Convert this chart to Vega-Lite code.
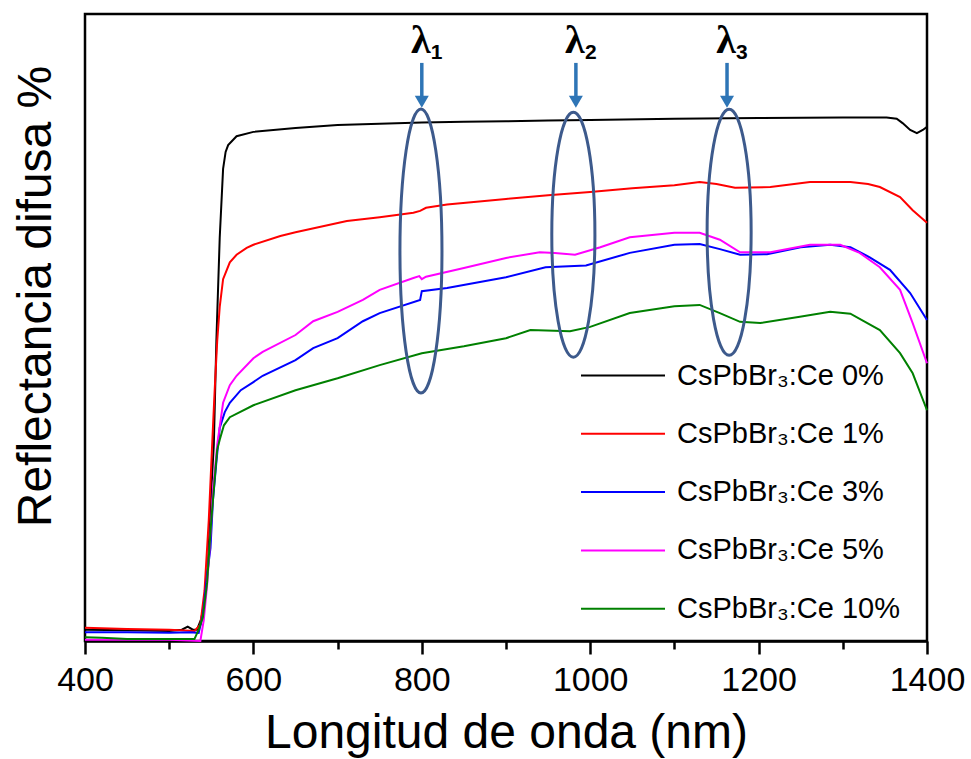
{
  "$schema": "https://vega.github.io/schema/vega-lite/v6.json",
  "width": 842,
  "height": 627,
  "autosize": {"type": "none"},
  "padding": {"left": 85, "top": 14, "right": 44, "bottom": 118},
  "background": "white",
  "config": {
    "font": "Liberation Sans",
    "view": {"stroke": "black", "strokeWidth": 2.5}
  },
  "datasets": {
    "espectros": [
      {"muestra": "CsPbBr₃:Ce 0%", "nm": 400, "r": 1.8},
      {"muestra": "CsPbBr₃:Ce 0%", "nm": 450, "r": 1.7},
      {"muestra": "CsPbBr₃:Ce 0%", "nm": 500, "r": 1.6},
      {"muestra": "CsPbBr₃:Ce 0%", "nm": 515, "r": 1.8},
      {"muestra": "CsPbBr₃:Ce 0%", "nm": 522, "r": 2.3},
      {"muestra": "CsPbBr₃:Ce 0%", "nm": 528, "r": 1.8},
      {"muestra": "CsPbBr₃:Ce 0%", "nm": 533, "r": 1.8},
      {"muestra": "CsPbBr₃:Ce 0%", "nm": 538, "r": 3.5},
      {"muestra": "CsPbBr₃:Ce 0%", "nm": 542, "r": 6.5},
      {"muestra": "CsPbBr₃:Ce 0%", "nm": 546, "r": 12.0},
      {"muestra": "CsPbBr₃:Ce 0%", "nm": 550, "r": 24.1},
      {"muestra": "CsPbBr₃:Ce 0%", "nm": 553, "r": 31.3},
      {"muestra": "CsPbBr₃:Ce 0%", "nm": 556, "r": 47.8},
      {"muestra": "CsPbBr₃:Ce 0%", "nm": 560, "r": 64.3},
      {"muestra": "CsPbBr₃:Ce 0%", "nm": 564, "r": 75.3},
      {"muestra": "CsPbBr₃:Ce 0%", "nm": 567, "r": 78.0},
      {"muestra": "CsPbBr₃:Ce 0%", "nm": 570, "r": 79.1},
      {"muestra": "CsPbBr₃:Ce 0%", "nm": 580, "r": 80.5},
      {"muestra": "CsPbBr₃:Ce 0%", "nm": 600, "r": 81.2},
      {"muestra": "CsPbBr₃:Ce 0%", "nm": 650, "r": 81.8},
      {"muestra": "CsPbBr₃:Ce 0%", "nm": 700, "r": 82.3},
      {"muestra": "CsPbBr₃:Ce 0%", "nm": 750, "r": 82.5},
      {"muestra": "CsPbBr₃:Ce 0%", "nm": 800, "r": 82.7},
      {"muestra": "CsPbBr₃:Ce 0%", "nm": 850, "r": 82.8},
      {"muestra": "CsPbBr₃:Ce 0%", "nm": 900, "r": 82.9},
      {"muestra": "CsPbBr₃:Ce 0%", "nm": 950, "r": 83.0},
      {"muestra": "CsPbBr₃:Ce 0%", "nm": 1000, "r": 83.1},
      {"muestra": "CsPbBr₃:Ce 0%", "nm": 1100, "r": 83.3},
      {"muestra": "CsPbBr₃:Ce 0%", "nm": 1200, "r": 83.4},
      {"muestra": "CsPbBr₃:Ce 0%", "nm": 1300, "r": 83.5},
      {"muestra": "CsPbBr₃:Ce 0%", "nm": 1352, "r": 83.5},
      {"muestra": "CsPbBr₃:Ce 0%", "nm": 1364, "r": 83.3},
      {"muestra": "CsPbBr₃:Ce 0%", "nm": 1371, "r": 82.6},
      {"muestra": "CsPbBr₃:Ce 0%", "nm": 1380, "r": 81.5},
      {"muestra": "CsPbBr₃:Ce 0%", "nm": 1388, "r": 81.0},
      {"muestra": "CsPbBr₃:Ce 0%", "nm": 1395, "r": 81.5},
      {"muestra": "CsPbBr₃:Ce 0%", "nm": 1400, "r": 82.0},

      {"muestra": "CsPbBr₃:Ce 1%", "nm": 400, "r": 2.1},
      {"muestra": "CsPbBr₃:Ce 1%", "nm": 450, "r": 1.9},
      {"muestra": "CsPbBr₃:Ce 1%", "nm": 500, "r": 1.8},
      {"muestra": "CsPbBr₃:Ce 1%", "nm": 530, "r": 1.6},
      {"muestra": "CsPbBr₃:Ce 1%", "nm": 537, "r": 2.6},
      {"muestra": "CsPbBr₃:Ce 1%", "nm": 542, "r": 8.1},
      {"muestra": "CsPbBr₃:Ce 1%", "nm": 547, "r": 19.3},
      {"muestra": "CsPbBr₃:Ce 1%", "nm": 551, "r": 31.3},
      {"muestra": "CsPbBr₃:Ce 1%", "nm": 554, "r": 40.0},
      {"muestra": "CsPbBr₃:Ce 1%", "nm": 557, "r": 47.8},
      {"muestra": "CsPbBr₃:Ce 1%", "nm": 560, "r": 53.3},
      {"muestra": "CsPbBr₃:Ce 1%", "nm": 564, "r": 57.7},
      {"muestra": "CsPbBr₃:Ce 1%", "nm": 572, "r": 60.4},
      {"muestra": "CsPbBr₃:Ce 1%", "nm": 580, "r": 61.6},
      {"muestra": "CsPbBr₃:Ce 1%", "nm": 592, "r": 62.7},
      {"muestra": "CsPbBr₃:Ce 1%", "nm": 600, "r": 63.2},
      {"muestra": "CsPbBr₃:Ce 1%", "nm": 632, "r": 64.6},
      {"muestra": "CsPbBr₃:Ce 1%", "nm": 650, "r": 65.2},
      {"muestra": "CsPbBr₃:Ce 1%", "nm": 711, "r": 67.0},
      {"muestra": "CsPbBr₃:Ce 1%", "nm": 750, "r": 67.6},
      {"muestra": "CsPbBr₃:Ce 1%", "nm": 790, "r": 68.3},
      {"muestra": "CsPbBr₃:Ce 1%", "nm": 798, "r": 68.6},
      {"muestra": "CsPbBr₃:Ce 1%", "nm": 805, "r": 69.1},
      {"muestra": "CsPbBr₃:Ce 1%", "nm": 830, "r": 69.6},
      {"muestra": "CsPbBr₃:Ce 1%", "nm": 900, "r": 70.5},
      {"muestra": "CsPbBr₃:Ce 1%", "nm": 950, "r": 71.1},
      {"muestra": "CsPbBr₃:Ce 1%", "nm": 1000, "r": 71.6},
      {"muestra": "CsPbBr₃:Ce 1%", "nm": 1050, "r": 72.2},
      {"muestra": "CsPbBr₃:Ce 1%", "nm": 1100, "r": 72.7},
      {"muestra": "CsPbBr₃:Ce 1%", "nm": 1130, "r": 73.2},
      {"muestra": "CsPbBr₃:Ce 1%", "nm": 1150, "r": 72.9},
      {"muestra": "CsPbBr₃:Ce 1%", "nm": 1172, "r": 72.3},
      {"muestra": "CsPbBr₃:Ce 1%", "nm": 1214, "r": 72.4},
      {"muestra": "CsPbBr₃:Ce 1%", "nm": 1261, "r": 73.2},
      {"muestra": "CsPbBr₃:Ce 1%", "nm": 1309, "r": 73.2},
      {"muestra": "CsPbBr₃:Ce 1%", "nm": 1330, "r": 72.9},
      {"muestra": "CsPbBr₃:Ce 1%", "nm": 1344, "r": 72.4},
      {"muestra": "CsPbBr₃:Ce 1%", "nm": 1368, "r": 70.8},
      {"muestra": "CsPbBr₃:Ce 1%", "nm": 1383, "r": 68.7},
      {"muestra": "CsPbBr₃:Ce 1%", "nm": 1400, "r": 66.7},

      {"muestra": "CsPbBr₃:Ce 3%", "nm": 400, "r": 1.4},
      {"muestra": "CsPbBr₃:Ce 3%", "nm": 450, "r": 1.4},
      {"muestra": "CsPbBr₃:Ce 3%", "nm": 500, "r": 1.3},
      {"muestra": "CsPbBr₃:Ce 3%", "nm": 525, "r": 1.4},
      {"muestra": "CsPbBr₃:Ce 3%", "nm": 535, "r": 1.3},
      {"muestra": "CsPbBr₃:Ce 3%", "nm": 540, "r": 4.1},
      {"muestra": "CsPbBr₃:Ce 3%", "nm": 545, "r": 10.5},
      {"muestra": "CsPbBr₃:Ce 3%", "nm": 549, "r": 14.8},
      {"muestra": "CsPbBr₃:Ce 3%", "nm": 552, "r": 22.5},
      {"muestra": "CsPbBr₃:Ce 3%", "nm": 556, "r": 28.5},
      {"muestra": "CsPbBr₃:Ce 3%", "nm": 560, "r": 34.0},
      {"muestra": "CsPbBr₃:Ce 3%", "nm": 566, "r": 36.5},
      {"muestra": "CsPbBr₃:Ce 3%", "nm": 572, "r": 38.0},
      {"muestra": "CsPbBr₃:Ce 3%", "nm": 585, "r": 40.0},
      {"muestra": "CsPbBr₃:Ce 3%", "nm": 600, "r": 41.3},
      {"muestra": "CsPbBr₃:Ce 3%", "nm": 611, "r": 42.3},
      {"muestra": "CsPbBr₃:Ce 3%", "nm": 650, "r": 44.8},
      {"muestra": "CsPbBr₃:Ce 3%", "nm": 671, "r": 46.7},
      {"muestra": "CsPbBr₃:Ce 3%", "nm": 700, "r": 48.3},
      {"muestra": "CsPbBr₃:Ce 3%", "nm": 730, "r": 51.0},
      {"muestra": "CsPbBr₃:Ce 3%", "nm": 750, "r": 52.3},
      {"muestra": "CsPbBr₃:Ce 3%", "nm": 798, "r": 54.4},
      {"muestra": "CsPbBr₃:Ce 3%", "nm": 800, "r": 55.8},
      {"muestra": "CsPbBr₃:Ce 3%", "nm": 830, "r": 56.3},
      {"muestra": "CsPbBr₃:Ce 3%", "nm": 900, "r": 58.0},
      {"muestra": "CsPbBr₃:Ce 3%", "nm": 947, "r": 59.6},
      {"muestra": "CsPbBr₃:Ce 3%", "nm": 995, "r": 59.9},
      {"muestra": "CsPbBr₃:Ce 3%", "nm": 1047, "r": 61.9},
      {"muestra": "CsPbBr₃:Ce 3%", "nm": 1100, "r": 63.2},
      {"muestra": "CsPbBr₃:Ce 3%", "nm": 1130, "r": 63.3},
      {"muestra": "CsPbBr₃:Ce 3%", "nm": 1154, "r": 62.5},
      {"muestra": "CsPbBr₃:Ce 3%", "nm": 1178, "r": 61.6},
      {"muestra": "CsPbBr₃:Ce 3%", "nm": 1210, "r": 61.7},
      {"muestra": "CsPbBr₃:Ce 3%", "nm": 1250, "r": 62.8},
      {"muestra": "CsPbBr₃:Ce 3%", "nm": 1285, "r": 63.2},
      {"muestra": "CsPbBr₃:Ce 3%", "nm": 1309, "r": 62.8},
      {"muestra": "CsPbBr₃:Ce 3%", "nm": 1332, "r": 61.2},
      {"muestra": "CsPbBr₃:Ce 3%", "nm": 1356, "r": 59.2},
      {"muestra": "CsPbBr₃:Ce 3%", "nm": 1380, "r": 55.5},
      {"muestra": "CsPbBr₃:Ce 3%", "nm": 1400, "r": 51.2},

      {"muestra": "CsPbBr₃:Ce 5%", "nm": 400, "r": 0.2},
      {"muestra": "CsPbBr₃:Ce 5%", "nm": 500, "r": 0.2},
      {"muestra": "CsPbBr₃:Ce 5%", "nm": 537, "r": 0.0},
      {"muestra": "CsPbBr₃:Ce 5%", "nm": 541, "r": 3.3},
      {"muestra": "CsPbBr₃:Ce 5%", "nm": 545, "r": 8.9},
      {"muestra": "CsPbBr₃:Ce 5%", "nm": 548, "r": 14.8},
      {"muestra": "CsPbBr₃:Ce 5%", "nm": 552, "r": 24.1},
      {"muestra": "CsPbBr₃:Ce 5%", "nm": 557, "r": 31.3},
      {"muestra": "CsPbBr₃:Ce 5%", "nm": 564, "r": 38.0},
      {"muestra": "CsPbBr₃:Ce 5%", "nm": 572, "r": 40.8},
      {"muestra": "CsPbBr₃:Ce 5%", "nm": 580, "r": 42.3},
      {"muestra": "CsPbBr₃:Ce 5%", "nm": 600, "r": 45.1},
      {"muestra": "CsPbBr₃:Ce 5%", "nm": 611, "r": 46.1},
      {"muestra": "CsPbBr₃:Ce 5%", "nm": 650, "r": 48.8},
      {"muestra": "CsPbBr₃:Ce 5%", "nm": 671, "r": 51.0},
      {"muestra": "CsPbBr₃:Ce 5%", "nm": 700, "r": 52.5},
      {"muestra": "CsPbBr₃:Ce 5%", "nm": 730, "r": 54.4},
      {"muestra": "CsPbBr₃:Ce 5%", "nm": 750, "r": 56.0},
      {"muestra": "CsPbBr₃:Ce 5%", "nm": 790, "r": 57.9},
      {"muestra": "CsPbBr₃:Ce 5%", "nm": 797, "r": 58.2},
      {"muestra": "CsPbBr₃:Ce 5%", "nm": 800, "r": 57.7},
      {"muestra": "CsPbBr₃:Ce 5%", "nm": 805, "r": 58.1},
      {"muestra": "CsPbBr₃:Ce 5%", "nm": 850, "r": 59.5},
      {"muestra": "CsPbBr₃:Ce 5%", "nm": 900, "r": 61.1},
      {"muestra": "CsPbBr₃:Ce 5%", "nm": 940, "r": 62.0},
      {"muestra": "CsPbBr₃:Ce 5%", "nm": 958, "r": 61.9},
      {"muestra": "CsPbBr₃:Ce 5%", "nm": 982, "r": 61.6},
      {"muestra": "CsPbBr₃:Ce 5%", "nm": 1012, "r": 62.8},
      {"muestra": "CsPbBr₃:Ce 5%", "nm": 1047, "r": 64.4},
      {"muestra": "CsPbBr₃:Ce 5%", "nm": 1100, "r": 65.1},
      {"muestra": "CsPbBr₃:Ce 5%", "nm": 1130, "r": 65.1},
      {"muestra": "CsPbBr₃:Ce 5%", "nm": 1154, "r": 64.0},
      {"muestra": "CsPbBr₃:Ce 5%", "nm": 1178, "r": 62.0},
      {"muestra": "CsPbBr₃:Ce 5%", "nm": 1214, "r": 62.0},
      {"muestra": "CsPbBr₃:Ce 5%", "nm": 1261, "r": 63.2},
      {"muestra": "CsPbBr₃:Ce 5%", "nm": 1297, "r": 63.2},
      {"muestra": "CsPbBr₃:Ce 5%", "nm": 1320, "r": 61.9},
      {"muestra": "CsPbBr₃:Ce 5%", "nm": 1344, "r": 59.6},
      {"muestra": "CsPbBr₃:Ce 5%", "nm": 1368, "r": 56.0},
      {"muestra": "CsPbBr₃:Ce 5%", "nm": 1383, "r": 50.7},
      {"muestra": "CsPbBr₃:Ce 5%", "nm": 1400, "r": 44.3},

      {"muestra": "CsPbBr₃:Ce 10%", "nm": 400, "r": 0.6},
      {"muestra": "CsPbBr₃:Ce 10%", "nm": 420, "r": 0.5},
      {"muestra": "CsPbBr₃:Ce 10%", "nm": 450, "r": 0.3},
      {"muestra": "CsPbBr₃:Ce 10%", "nm": 530, "r": 0.3},
      {"muestra": "CsPbBr₃:Ce 10%", "nm": 535, "r": 1.8},
      {"muestra": "CsPbBr₃:Ce 10%", "nm": 540, "r": 3.8},
      {"muestra": "CsPbBr₃:Ce 10%", "nm": 545, "r": 9.3},
      {"muestra": "CsPbBr₃:Ce 10%", "nm": 550, "r": 19.3},
      {"muestra": "CsPbBr₃:Ce 10%", "nm": 554, "r": 25.8},
      {"muestra": "CsPbBr₃:Ce 10%", "nm": 557, "r": 30.5},
      {"muestra": "CsPbBr₃:Ce 10%", "nm": 560, "r": 32.1},
      {"muestra": "CsPbBr₃:Ce 10%", "nm": 565, "r": 34.4},
      {"muestra": "CsPbBr₃:Ce 10%", "nm": 572, "r": 35.7},
      {"muestra": "CsPbBr₃:Ce 10%", "nm": 600, "r": 37.6},
      {"muestra": "CsPbBr₃:Ce 10%", "nm": 650, "r": 40.0},
      {"muestra": "CsPbBr₃:Ce 10%", "nm": 700, "r": 41.9},
      {"muestra": "CsPbBr₃:Ce 10%", "nm": 750, "r": 44.0},
      {"muestra": "CsPbBr₃:Ce 10%", "nm": 800, "r": 45.9},
      {"muestra": "CsPbBr₃:Ce 10%", "nm": 850, "r": 47.0},
      {"muestra": "CsPbBr₃:Ce 10%", "nm": 900, "r": 48.3},
      {"muestra": "CsPbBr₃:Ce 10%", "nm": 929, "r": 49.6},
      {"muestra": "CsPbBr₃:Ce 10%", "nm": 976, "r": 49.4},
      {"muestra": "CsPbBr₃:Ce 10%", "nm": 1000, "r": 50.1},
      {"muestra": "CsPbBr₃:Ce 10%", "nm": 1047, "r": 52.3},
      {"muestra": "CsPbBr₃:Ce 10%", "nm": 1100, "r": 53.4},
      {"muestra": "CsPbBr₃:Ce 10%", "nm": 1130, "r": 53.6},
      {"muestra": "CsPbBr₃:Ce 10%", "nm": 1154, "r": 52.3},
      {"muestra": "CsPbBr₃:Ce 10%", "nm": 1178, "r": 50.9},
      {"muestra": "CsPbBr₃:Ce 10%", "nm": 1202, "r": 50.7},
      {"muestra": "CsPbBr₃:Ce 10%", "nm": 1249, "r": 51.7},
      {"muestra": "CsPbBr₃:Ce 10%", "nm": 1285, "r": 52.5},
      {"muestra": "CsPbBr₃:Ce 10%", "nm": 1309, "r": 52.2},
      {"muestra": "CsPbBr₃:Ce 10%", "nm": 1344, "r": 49.6},
      {"muestra": "CsPbBr₃:Ce 10%", "nm": 1368, "r": 45.9},
      {"muestra": "CsPbBr₃:Ce 10%", "nm": 1383, "r": 42.7},
      {"muestra": "CsPbBr₃:Ce 10%", "nm": 1400, "r": 36.8}
    ],
    "anillos": [
      {"id": 1, "nm": 799, "r": 62.2},
      {"id": 2, "nm": 980, "r": 64.8},
      {"id": 3, "nm": 1165, "r": 65.2}
    ],
    "flechas": [
      {"nm": 800, "r": 92.2, "r2": 86.6},
      {"nm": 983, "r": 92.2, "r2": 86.6},
      {"nm": 1162.5, "r": 92.2, "r2": 86.6}
    ],
    "puntas": [
      {"nm": 800, "r": 86.0},
      {"nm": 983, "r": 86.0},
      {"nm": 1162.5, "r": 86.0}
    ],
    "etiquetas": [
      {"nm": 800, "r": 93.8, "sub": "1"},
      {"nm": 983, "r": 93.8, "sub": "2"},
      {"nm": 1162.5, "r": 93.8, "sub": "3"}
    ]
  },
  "encoding": {
    "x": {
      "field": "nm",
      "type": "quantitative",
      "scale": {"domain": [400, 1400], "nice": false, "zero": false},
      "axis": {
        "title": "Longitud de onda (nm)",
        "values": [400, 500, 600, 700, 800, 900, 1000, 1100, 1200, 1300, 1400],
        "format": "d",
        "labelExpr": "datum.value % 200 === 0 ? datum.label : ''",
        "labelFontSize": 34,
        "labelColor": "black",
        "labelPadding": 9,
        "labelFlush": false,
        "labelOverlap": false,
        "tickSize": {"condition": {"test": "datum.value % 200 !== 0", "value": 8}, "value": 13},
        "tickWidth": 2.5,
        "tickColor": "black",
        "domainColor": "black",
        "domainWidth": 2.5,
        "grid": false,
        "titleFontSize": 48,
        "titleFontWeight": "normal",
        "titleColor": "black",
        "titleX": 421,
        "titleY": 106,
        "titleBaseline": "alphabetic"
      }
    },
    "y": {
      "field": "r",
      "type": "quantitative",
      "scale": {"domain": [0, 100], "nice": false, "zero": false},
      "axis": {
        "title": "Reflectancia difusa %",
        "labels": false,
        "ticks": false,
        "domain": false,
        "grid": false,
        "titleFontSize": 48,
        "titleFontWeight": "normal",
        "titleColor": "black",
        "titleAngle": -90,
        "titleX": -35,
        "titleY": 282,
        "titleAlign": "center",
        "titleBaseline": "alphabetic"
      }
    }
  },
  "layer": [
    {
      "data": {"name": "espectros"},
      "mark": {"type": "line", "strokeWidth": 2},
      "encoding": {
        "color": {
          "field": "muestra",
          "type": "nominal",
          "scale": {
            "domain": ["CsPbBr₃:Ce 0%", "CsPbBr₃:Ce 1%", "CsPbBr₃:Ce 3%", "CsPbBr₃:Ce 5%", "CsPbBr₃:Ce 10%"],
            "range": ["#000000", "#ff0000", "#0000ff", "#ff00ff", "#008000"]
          },
          "legend": {
            "title": null,
            "orient": "none",
            "legendX": 495,
            "legendY": 347,
            "padding": 0,
            "symbolType": "stroke",
            "symbolSize": 7056,
            "symbolStrokeWidth": 2,
            "labelFontSize": 29,
            "labelColor": "black",
            "labelOffset": 11,
            "labelLimit": 400,
            "rowPadding": 28.3,
            "clipHeight": 29
          }
        }
      }
    },
    {
      "data": {"name": "anillos"},
      "transform": [{"filter": "datum.id === 1"}],
      "mark": {"type": "point", "shape": "M0,-1A0.148,1 0 1,1 0,1A0.148,1 0 1,1 0,-1Z", "size": 80656, "filled": false, "color": "#3d5a8c", "strokeWidth": 3, "opacity": 1}
    },
    {
      "data": {"name": "anillos"},
      "transform": [{"filter": "datum.id === 2"}],
      "mark": {"type": "point", "shape": "M0,-1A0.176,1 0 1,1 0,1A0.176,1 0 1,1 0,-1Z", "size": 60025, "filled": false, "color": "#3d5a8c", "strokeWidth": 3, "opacity": 1}
    },
    {
      "data": {"name": "anillos"},
      "transform": [{"filter": "datum.id === 3"}],
      "mark": {"type": "point", "shape": "M0,-1A0.179,1 0 1,1 0,1A0.179,1 0 1,1 0,-1Z", "size": 60516, "filled": false, "color": "#3d5a8c", "strokeWidth": 3, "opacity": 1}
    },
    {
      "data": {"name": "flechas"},
      "mark": {"type": "rule", "color": "#2e75b6", "strokeWidth": 3.5},
      "encoding": {"y2": {"field": "r2"}}
    },
    {
      "data": {"name": "puntas"},
      "mark": {"type": "point", "shape": "M-1,-0.85L1,-0.85L0,0.85Z", "size": 196, "filled": true, "color": "#2e75b6", "opacity": 1}
    },
    {
      "data": {"name": "etiquetas"},
      "mark": {"type": "text", "text": "λ", "font": "Liberation Serif", "fontSize": 40, "fontWeight": "bold", "align": "center", "baseline": "alphabetic", "dx": -1, "color": "black"}
    },
    {
      "data": {"name": "etiquetas"},
      "mark": {"type": "text", "font": "Liberation Sans", "fontSize": 21, "fontWeight": "bold", "align": "left", "baseline": "alphabetic", "dx": 9, "dy": 6, "color": "black"},
      "encoding": {"text": {"field": "sub"}}
    }
  ]
}
